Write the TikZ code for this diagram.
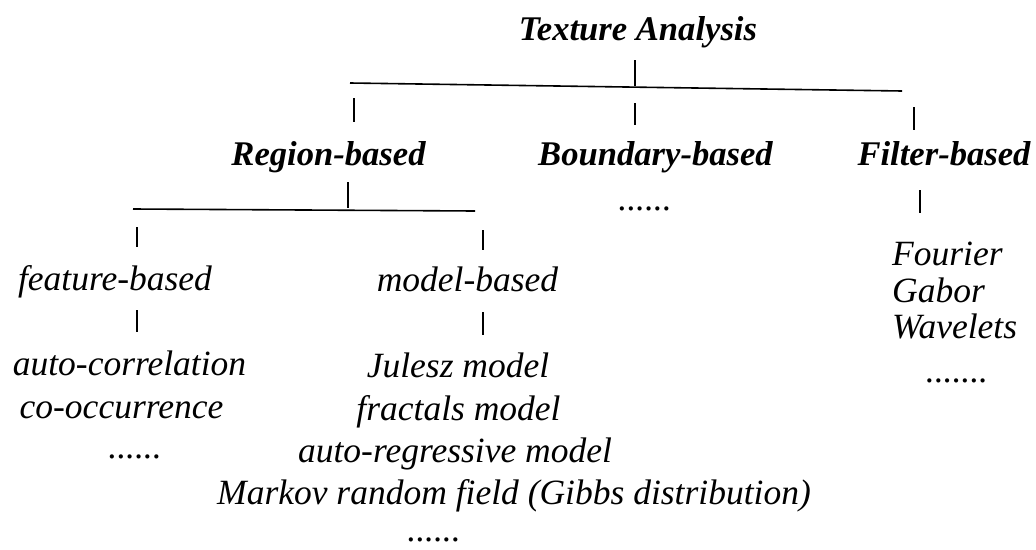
\documentclass[tikz,border=0pt]{standalone}
\usepackage{fontspec}
\setmainfont{Liberation Serif}
\begin{document}
\begin{tikzpicture}[x=1pt,y=-1pt,
  head/.style={anchor=base,inner sep=0pt,font=\fontsize{34.6}{40}\selectfont\bfseries\itshape},
  item/.style={anchor=base,inner sep=0pt,font=\fontsize{35.5}{40}\selectfont\itshape},
  stem/.style={line width=1.5pt},
  bar/.style={line width=1.6pt}]
\useasboundingbox (0,0) rectangle (1036,549);

% --- headings ---
\node[head] (ta) at (638,40)    {Texture Analysis};
\node[head] (rb) at (328.5,165) {Region-based};
\node[head] (bb) at (655.5,165) {Boundary-based};
\node[head] (fb) at (944,165)   {Filter-based};

% --- boundary-based branch ---
\node[item] (bbdots) at (645,210) {......};

% --- region-based branch ---
\node[item] (feat) at (115,290)   {feature-based};
\node[item] (modl) at (467.5,291) {model-based};

\node[item] (ac) at (129.5,375) {auto-correlation};
\node[item] (co) at (121.5,418) {co-occurrence};
\node[item] (fdots) at (135,458) {......};

\node[item] (jm)  at (458,377)   {Julesz model};
\node[item] (fm)  at (458.5,420) {fractals model};
\node[item] (ar)  at (455,462)   {auto-regressive model};
\node[item] (mrf) at (514,504)   {Markov random field (Gibbs distribution)};
\node[item] (mdots) at (434,541) {......};

% --- filter-based branch ---
\node[item,anchor=base west] (fo) at (892,265) {Fourier};
\node[item,anchor=base west] (ga) at (892,302) {Gabor};
\node[item,anchor=base west] (wa) at (892,338) {Wavelets};
\node[item] (fbdots) at (957,382) {.......};

% --- connector end points ---
\coordinate (ta-s)  at (635,60);   \coordinate (ta-e)  at (635,86);
\coordinate (top-l) at (350,83);   \coordinate (top-r) at (902,91);
\coordinate (rb-s)  at (354,98);   \coordinate (rb-e)  at (354,122);
\coordinate (bb-s)  at (635,103);  \coordinate (bb-e)  at (635,125);
\coordinate (fb-s)  at (914,107);  \coordinate (fb-e)  at (914,130);
\coordinate (rd-s)  at (348,182);  \coordinate (rd-e)  at (348,208);
\coordinate (reg-l) at (133,209);  \coordinate (reg-r) at (475,211);
\coordinate (fe-s)  at (137,227);  \coordinate (fe-e)  at (137,247);
\coordinate (mo-s)  at (483,230);  \coordinate (mo-e)  at (483,250);
\coordinate (fed-s) at (137,310);  \coordinate (fed-e) at (137,332);
\coordinate (mod-s) at (483,312);  \coordinate (mod-e) at (483,335);
\coordinate (fbd-s) at (920,190);  \coordinate (fbd-e) at (920,213);

% --- connectors ---
\draw[stem] (ta-s) -- (ta-e);
\draw[bar]  (top-l) -- (top-r);
\draw[stem] (rb-s) -- (rb-e);
\draw[stem] (bb-s) -- (bb-e);
\draw[stem] (fb-s) -- (fb-e);
\draw[stem] (rd-s) -- (rd-e);
\draw[bar]  (reg-l) -- (reg-r);
\draw[stem] (fe-s) -- (fe-e);
\draw[stem] (mo-s) -- (mo-e);
\draw[stem] (fed-s) -- (fed-e);
\draw[stem] (mod-s) -- (mod-e);
\draw[stem] (fbd-s) -- (fbd-e);
\end{tikzpicture}
\end{document}
